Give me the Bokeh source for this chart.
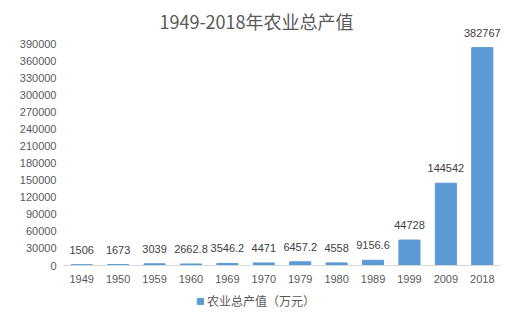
from bokeh.plotting import figure
from bokeh.layouts import column
from bokeh.core.properties import value
from bokeh.models import (ColumnDataSource, Range1d, FixedTicker, NumeralTickFormatter,
                          Legend, LegendItem, Label, LabelSet, FactorRange)
from bokeh.embed import file_html
from bokeh.resources import INLINE

years = ["1949", "1950", "1959", "1960", "1969", "1970", "1979", "1980", "1989", "1999", "2009", "2018"]
values = [1506, 1673, 3039, 2662.8, 3546.2, 4471, 6457.2, 4558, 9156.6, 44728, 144542, 382767]
series_name = "农业总产值（万元）"
title_text = "1949-2018年农业总产值"
y_ticks = list(range(0, 390001, 30000))

labels = [f"{v:g}" for v in values]
src = ColumnDataSource(dict(year=years, value=values, label=labels))

FONT = "'Liberation Sans', 'Noto Sans CJK SC'"
TXT = "#595959"
BAR = "#5B9BD5"

# frame spans from canvas top to the axis line (y=265); top tick (390000) sits 43px below the top
FRAME_H = 265
y_end = y_ticks[-1] * FRAME_H / (FRAME_H - 43)

p = figure(x_range=FactorRange(factors=years, range_padding=0), y_range=Range1d(0, y_end),
           width=512, height=290, output_backend="svg", toolbar_location=None,
           min_border_left=63, min_border_right=12, min_border_top=0, min_border_bottom=25)
p.outline_line_color = None
p.background_fill_color = "white"
p.border_fill_color = "white"
p.xgrid.visible = False
p.ygrid.visible = False

r = p.vbar(x="year", top="value", width=0.58, source=src, color=BAR)
p.add_layout(LabelSet(x="year", y="value", text="label", source=src, text_align="center",
                      text_baseline="middle", y_offset=15, text_font_size="11px",
                      text_font=value("Liberation Sans"), text_color="#404040"))

# chart title (centred on the whole chart area)
p.add_layout(Label(x=256 - 63, y=FRAME_H - 20, x_units="screen", y_units="screen",
                   text=title_text, text_align="center", text_baseline="middle",
                   text_font_size="18px", text_font="Noto Sans CJK SC", text_color=TXT))

p.yaxis.ticker = FixedTicker(ticks=y_ticks)
p.yaxis.formatter = NumeralTickFormatter(format="0")
p.yaxis.axis_line_color = None
p.yaxis.major_tick_line_color = None
p.yaxis.minor_tick_line_color = None
p.yaxis.major_tick_out = 0
p.yaxis.minor_tick_out = 0
p.yaxis.major_label_standoff = 7
p.yaxis.major_label_text_font_size = "11px"
p.yaxis.major_label_text_color = TXT
p.yaxis.major_label_text_font = "Liberation Sans"

p.xaxis.axis_line_color = "#D9D9D9"
p.xaxis.major_tick_line_color = None
p.xaxis.minor_tick_line_color = None
p.xaxis.major_tick_out = 0
p.xaxis.major_label_standoff = 9
p.xaxis.major_label_text_font_size = "11px"
p.xaxis.major_label_text_color = TXT
p.xaxis.major_label_text_font = "Liberation Sans"

# legend strip below the chart (hidden renderer, used only for the legend swatch)
p2 = figure(width=512, height=26, output_backend="svg", toolbar_location=None,
            x_range=FactorRange(factors=years), y_range=Range1d(0, y_end),
            x_axis_location=None, y_axis_location=None,
            min_border_left=0, min_border_right=0, min_border_top=0, min_border_bottom=0)
p2.grid.visible = False
p2.outline_line_color = None
p2.border_fill_color = "white"
p2.background_fill_color = "white"
r2 = p2.vbar(x="year", top="value", width=0.58, source=src, color=BAR, visible=False)
legend = Legend(items=[LegendItem(label=series_name, renderers=[r2])], location=(133, 7),
                border_line_color=None, background_fill_alpha=0, padding=0, margin=0,
                inactive_fill_alpha=0,
                glyph_width=8, glyph_height=8, label_height=12, label_standoff=3,
                label_text_font_size="12px", label_text_color=TXT, label_text_font=FONT)
p2.add_layout(legend, "center")

layout = column(p, p2, spacing=0)
open("out.html", "w").write(file_html(layout, INLINE))
